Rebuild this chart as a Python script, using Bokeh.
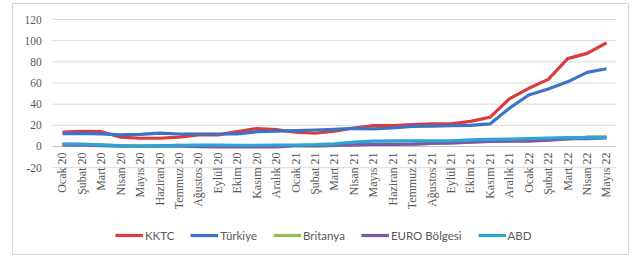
from bokeh.plotting import figure
from bokeh.models import (Range1d, ColumnDataSource, LabelSet, Legend, LegendItem)
from bokeh.embed import file_html
from bokeh.resources import INLINE

months = ["Ocak 20", "Şubat 20", "Mart 20", "Nisan 20", "Mayıs 20", "Haziran 20",
          "Temmuz 20", "Ağustos 20", "Eylül 20", "Ekim 20", "Kasım 20", "Aralık 20",
          "Ocak 21", "Şubat 21", "Mart 21", "Nisan 21", "Mayıs 21", "Haziran 21",
          "Temmuz 21", "Ağustos 21", "Eylül 21", "Ekim 21", "Kasım 21", "Aralık 21",
          "Ocak 22", "Şubat 22", "Mart 22", "Nisan 22", "Mayıs 22"]

kktc = [13.5, 14.4, 14.0, 8.8, 7.8, 7.8, 8.8, 11.0, 11.0, 14.0, 17.0, 16.0,
        13.5, 12.5, 14.4, 17.5, 19.7, 19.7, 20.7, 21.3, 21.3, 23.8, 27.6, 45.0,
        55.0, 63.4, 83.0, 88.0, 98.0]
turkiye = [12.2, 12.4, 11.9, 10.9, 11.4, 12.6, 11.8, 11.8, 11.8, 11.9, 14.0, 14.6,
           15.0, 15.6, 16.2, 17.1, 16.6, 17.5, 19.0, 19.3, 19.6, 19.9, 21.3, 36.1,
           48.7, 54.4, 61.1, 70.0, 73.5]
britanya = [1.8, 1.7, 1.5, 0.8, 0.5, 0.6, 1.0, 0.2, 0.5, 0.7, 0.3, 0.6,
            0.7, 0.4, 0.7, 1.5, 2.1, 2.5, 2.0, 3.2, 3.1, 4.2, 5.1, 5.4,
            5.5, 6.2, 7.0, 9.0, 9.1]
euro = [1.4, 1.2, 0.7, 0.3, 0.1, 0.3, 0.4, -0.2, -0.3, -0.3, -0.3, -0.3,
        0.9, 0.9, 1.3, 1.6, 2.0, 1.9, 2.2, 3.0, 3.4, 4.1, 4.9, 5.0,
        5.1, 5.9, 7.4, 7.4, 8.1]
abd = [2.5, 2.3, 1.5, 0.3, 0.1, 0.6, 1.0, 1.3, 1.4, 1.2, 1.2, 1.4,
       1.4, 1.7, 2.6, 4.2, 5.0, 5.4, 5.4, 5.3, 5.4, 6.2, 6.8, 7.0,
       7.5, 7.9, 8.5, 8.3, 8.6]
y_ticks = [-20, 0, 20, 40, 60, 80, 100, 120]

series = [("KKTC", kktc, "#dc3b3f"),
          ("Türkiye", turkiye, "#3b73c5"),
          ("Britanya", britanya, "#8cc152"),
          ("EURO Bölgesi", euro, "#7e57a8"),
          ("ABD", abd, "#2aa5d6")]

FONT = "Lato"
GRAY = "#595959"

n = len(months)
x = list(range(n))
x_lo, x_hi = -0.5, n - 0.5          # category band edges

# the frame is the whole chart box (its outline is the chart border)
p = figure(width=630, height=258, output_backend="svg", toolbar_location=None,
           x_axis_type=None, y_axis_type=None,
           x_range=Range1d(-2.573, 29.132), y_range=Range1d(-102.05, 135.12),
           min_border_left=12, min_border_right=2, min_border_top=3,
           min_border_bottom=4)
p.outline_line_color = "#d6d6d6"
p.outline_line_width = 1
p.grid.visible = False

# horizontal gridlines over the plot area only
p.segment(x0=[x_lo] * len(y_ticks), x1=[x_hi] * len(y_ticks), y0=y_ticks, y1=y_ticks,
          line_color="#d9d9d9", line_width=1)
# category axis at zero
p.segment(x0=[x_lo], x1=[x_hi], y0=[0], y1=[0], line_color="#c4c4c4", line_width=1)

# y tick labels
ysrc = ColumnDataSource(dict(x=[x_lo] * len(y_ticks), y=y_ticks, t=[str(v) for v in y_ticks]))
p.add_layout(LabelSet(x="x", y="y", text="t", source=ysrc, x_offset=-11,
                      text_align="right", text_baseline="middle", text_font=FONT,
                      text_font_size="11.5px", text_color=GRAY))

items = []
for name, vals, color in series:
    r = p.line(x, vals, line_color=color, line_width=3.2, line_join="round")
    items.append(LegendItem(label=name, renderers=[r]))

# x category labels, rotated, hanging below the zero axis
src = ColumnDataSource(dict(x=x, y=[0] * n, t=months))
p.add_layout(LabelSet(x="x", y="y", text="t", source=src, angle=1.5708,
                      text_align="right", text_baseline="middle", y_offset=-6,
                      text_font=FONT, text_font_size="12px", text_color=GRAY))

legend = Legend(items=items, orientation="horizontal", location=(103, 12),
                glyph_width=28, glyph_height=14, label_height=14, label_standoff=2,
                spacing=16, padding=0, margin=0, border_line_color=None,
                background_fill_alpha=0, label_text_font=FONT,
                label_text_font_size="11.5px", label_text_color=GRAY)
p.add_layout(legend, "center")

open("out.html", "w").write(file_html(p, INLINE))
